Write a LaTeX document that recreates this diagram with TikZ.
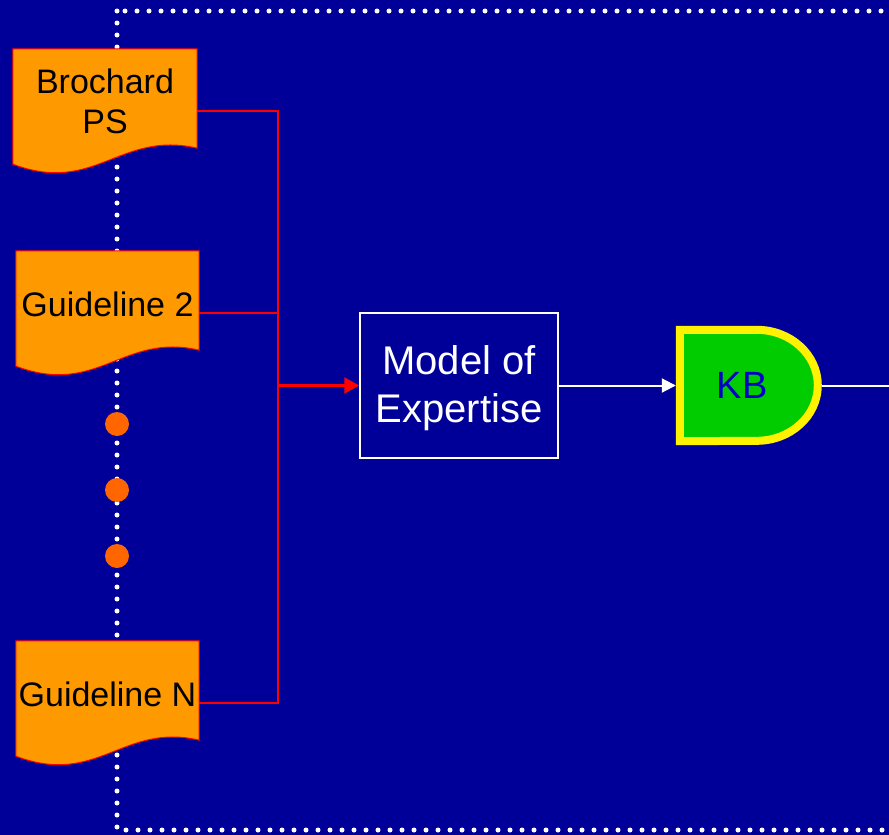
\documentclass[tikz,border=0pt]{standalone}
\usepackage{fontspec}
\setmainfont{Liberation Sans}
\usepackage{tikz}
\pgfdeclarelayer{back}
\pgfdeclarelayer{shapes}
\pgfsetlayers{back,shapes,main}
\usetikzlibrary{arrows.meta, calc}
\definecolor{slide}{HTML}{000099}
\definecolor{docfill}{HTML}{FF9900}
\definecolor{dotorange}{HTML}{FF6600}
\definecolor{kbgreen}{HTML}{00CC00}
\definecolor{kbtext}{HTML}{0000CC}

\begin{document}
\begin{tikzpicture}[x=1pt, y=-1pt,
    every node/.style={font=\fontsize{34}{40}\selectfont},
    docbox/.style={rectangle, inner sep=0pt, minimum height=123pt},
    doclabel/.style={text=black, align=center, inner sep=0pt},
    modelbox/.style={rectangle, draw=white, line width=1.5pt, minimum width=198pt, minimum height=145pt},
    modellabel/.style={text=white, align=center, inner sep=0pt, font=\fontsize{40}{48}\selectfont},
    kbnode/.style={rectangle, minimum width=146pt, minimum height=119pt},
    kblabel/.style={text=kbtext, inner sep=0pt, font=\fontsize{38}{44}\selectfont},
    feed/.style={red, line width=2pt},
    feedarrow/.style={red, line width=2.5pt, -{Triangle[length=15pt, width=16pt]}},
    flow/.style={white, line width=2pt},
    flowarrow/.style={flow, -{Triangle[length=14pt, width=14pt]}},
    pending/.style={circle, fill=dotorange, minimum size=24pt, inner sep=0pt},
]
% Canvas: 1 unit = 1 px, y downwards
\useasboundingbox (0,0) rectangle (889,835);
\clip (0,0) rectangle (889,835);
\begin{pgfonlayer}{back}
\fill[slide] (0,0) rectangle (889,835);
\draw[white, line width=5pt, line cap=round, dash pattern=on 0pt off 12pt] (117,11) rectangle (910,830);
\end{pgfonlayer}
% Sources
\node[docbox, minimum width=184pt] (brochard) at (105,110.5) {};
\node[docbox, minimum width=183pt] (guidetwo) at (107.5,312.5) {};
\node[docbox, minimum width=183pt] (guiden) at (107.5,702.5) {};
\begin{pgfonlayer}{shapes}
\foreach \d in {brochard, guidetwo, guiden} {
    \draw[red, line width=1pt, fill=docfill] (\d.north west) -- (\d.north east) -- ([yshift=24pt]\d.south east)
        .. controls ([shift={(107pt,42pt)}]\d.south west) and ([shift={(82pt,-23pt)}]\d.south west) .. ([yshift=8pt]\d.south west) -- cycle;
}
\end{pgfonlayer}
\node[doclabel] (brochard-text) at ([yshift=9pt]brochard.center) {Brochard\\PS};
\node[doclabel] (guidetwo-text) at ([yshift=8pt]guidetwo.center) {Guideline 2};
\node[doclabel] (guiden-text) at ([yshift=8pt]guiden.center) {Guideline N};
\foreach \y [count=\i] in {424,490,556} {
    \node[pending] (gap\i) at (117,\y) {};
}
% Model and KB
\node[modelbox] (model) at (459,385.5) {};
\node[modellabel] (model-text) at ([yshift=-3pt]model.center) {Model of\\Expertise};
\node[kbnode] (kb) at (749,385.5) {};
\begin{pgfonlayer}{shapes}
\draw[yellow, fill=kbgreen, line width=8pt] ([shift={(4pt,-4pt)}]kb.north west) -- ++(77pt,0pt)
    arc[start angle=90, end angle=-90, x radius=61pt, y radius=55.5pt] -- ([shift={(4pt,4pt)}]kb.south west) -- cycle;
\end{pgfonlayer}
\node[kblabel] (kb-text) at ([xshift=-7pt]kb.center) {KB};
% Connectors
\coordinate (bus) at (278,385.5);
\coordinate (exit) at (889,385.5);
\draw[feed] (brochard.east) -| (bus) |- (guiden.east);
\draw[feed] (guidetwo.east) -| (bus);
\draw[feedarrow] (bus) -- (model.west);
\draw[flowarrow] (model.east) -- (kb.west);
\draw[flow] (kb.east) -- (exit);
\end{tikzpicture}
\end{document}
